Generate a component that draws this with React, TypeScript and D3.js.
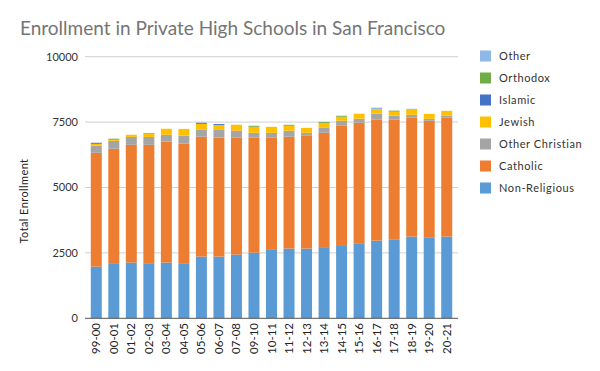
import React from "react";
import * as d3 from "d3";

const categories = ["99-00","00-01","01-02","02-03","03-04","04-05","05-06","06-07","07-08","09-10","10-11","11-12","12-13","13-14","14-15","15-16","16-17","17-18","18-19","19-20","20-21"];
const nonReligious = [1975,2080,2130,2080,2130,2080,2360,2360,2435,2510,2615,2665,2665,2690,2765,2845,2970,3000,3125,3075,3125];
const catholic = [4350,4400,4500,4550,4630,4600,4580,4550,4465,4390,4285,4275,4310,4400,4595,4630,4620,4590,4540,4475,4540];
const otherChristian = [280,305,305,305,255,305,280,290,270,190,190,230,115,190,190,155,230,155,115,75,75];
const jewish = [65,40,80,125,230,255,215,190,230,230,230,190,190,190,155,190,155,155,190,190,190];
const islamic = [40,0,0,0,0,0,40,35,0,0,0,0,0,0,0,0,0,0,0,0,0];
const orthodox = [0,40,0,25,0,0,0,0,0,40,0,37,0,38,38,0,0,38,0,0,0];
const other = [0,0,0,0,0,0,0,0,0,0,0,0,0,0,0,0,77,0,39,0,0];
const yTicks = [0,2500,5000,7500,10000];

const seriesNames = ["Non-Religious","Catholic","Other Christian","Jewish","Islamic","Orthodox","Other"];
const seriesValues = [nonReligious, catholic, otherChristian, jewish, islamic, orthodox, other];
const colors = ["#5B9BD5","#ED7D31","#A5A5A5","#FFC000","#4472C4","#70AD47","#8EB8E5"];

export default function App() {
  const W = 600, H = 371;
  const x = d3.scaleBand<string>().domain(categories).range([85, 458]).paddingInner(0.373).paddingOuter(0.33);
  const y = d3.scaleLinear().domain([0, 10000]).range([318.3, 56.7]);
  const rows = categories.map((c, i) => {
    const r: any = { cat: c };
    seriesNames.forEach((s, k) => (r[s] = seriesValues[k][i]));
    return r;
  });
  const stacked = d3.stack().keys(seriesNames)(rows);
  const font = "Lato, 'Open Sans', sans-serif";
  const legendOrder = [...seriesNames.keys()].reverse();
  return (
    <svg width={W} height={H} style={{ position: "absolute", left: 0, top: 0 }} fontFamily={font}>
      <rect width={W} height={H} fill="#fff" />
      <text x={20} y={35} fontSize={19} fill="#757575">Enrollment in Private High Schools in San Francisco</text>
      {yTicks.map((t) => (
        <g key={t}>
          {t > 0 && <line x1={85} x2={458} y1={y(t)} y2={y(t)} stroke="#D0D0D0" strokeWidth={1} />}
          <text x={78} y={y(t)} dy="0.35em" textAnchor="end" fontSize={11} fill="#333">{t}</text>
        </g>
      ))}
      {stacked.map((layer, k) => (
        <g key={k} fill={colors[k]}>
          {layer.map((d, i) => (
            d[1] - d[0] > 0 ? (
              <rect key={i} x={x(categories[i])} width={x.bandwidth()} y={y(d[1])} height={y(d[0]) - y(d[1])} />
            ) : null
          ))}
        </g>
      ))}
      <line x1={85} x2={458} y1={y(0)} y2={y(0)} stroke="#555" strokeWidth={1} />
      {categories.map((c) => (
        <text key={c} transform={`translate(${(x(c) as number) + x.bandwidth() / 2},323) rotate(-90)`} textAnchor="end" dy="0.35em" fontSize={11.5} fill="#222">{c}</text>
      ))}
      <text transform="translate(24,201) rotate(-90)" textAnchor="middle" dy="0.35em" fontSize={11} fill="#222" letterSpacing={0.4}>Total Enrollment</text>
      {legendOrder.map((k, i) => (
        <g key={k}>
          <rect x={480} y={56 + i * 22 - 5.5} width={11} height={11} fill={colors[k]} />
          <text x={499} y={56 + i * 22} dy="0.35em" fontSize={11} fill="#333" letterSpacing={0.6}>{seriesNames[k]}</text>
        </g>
      ))}
    </svg>
  );
}
